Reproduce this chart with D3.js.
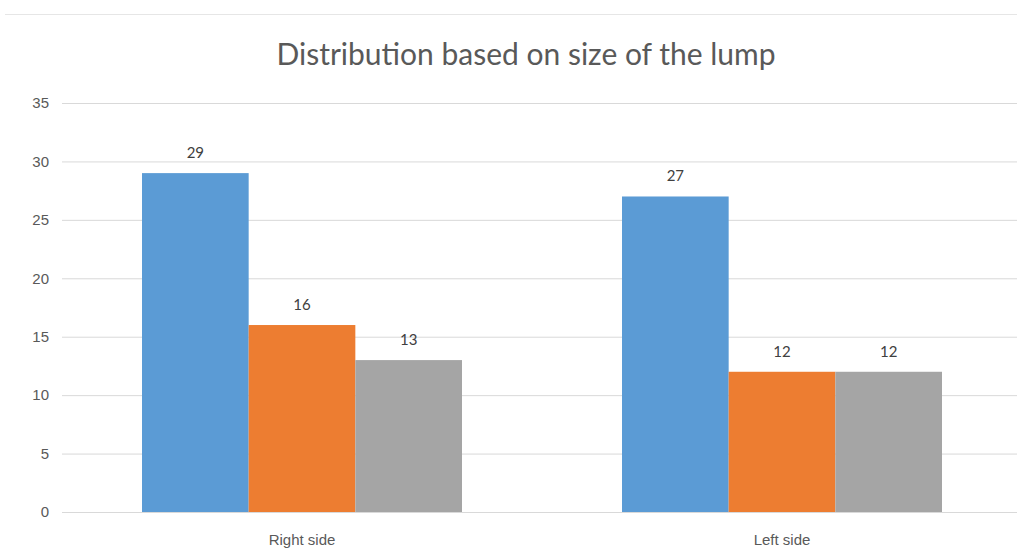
<!DOCTYPE html>
<html>
<head>
<meta charset="utf-8">
<script src="https://cdn.jsdelivr.net/npm/d3@7"></script>
<style>
  body { margin: 0; background: #fff; }
  svg { display: block; font-family: Lato, "Open Sans", sans-serif; }
</style>
</head>
<body>
<div class="chart"></div>
<script>
// data
const categories = ["Right side", "Left side"];
const seriesNames = ["Series1", "Series2", "Series3"];
const series1 = [29, 27];
const series2 = [16, 12];
const series3 = [13, 12];
const yTicks = [0, 5, 10, 15, 20, 25, 30, 35];

const colors = ["#5B9BD5", "#ED7D31", "#A5A5A5"];

// size
const svg_w = 1017;
const svg_h = 549;
const plotLeft = 62;
const plotRight = 1022;
const plotTop = 103;
const plotBottom = 512;

const table = categories.map((c, i) => ({
  cat: c,
  values: [series1[i], series2[i], series3[i]]
}));

const svg = d3.select(".chart")
  .append("svg")
  .attr("width", svg_w)
  .attr("height", svg_h);

// chart border line at top
svg.append("line")
  .attr("x1", 5).attr("x2", svg_w)
  .attr("y1", 14.5).attr("y2", 14.5)
  .attr("stroke", "#e6e6e6")
  .attr("stroke-width", 1);

// scales
const xScale = d3.scaleBand()
  .domain(categories)
  .range([plotLeft, plotRight]);

const xInner = d3.scaleBand()
  .domain(seriesNames)
  .range([0, xScale.bandwidth()])
  .paddingOuter(0.75);

const yScale = d3.scaleLinear()
  .domain([0, 35])
  .range([plotBottom, plotTop]);

// gridlines + y labels
const yAxis = d3.axisLeft(yScale)
  .tickValues(yTicks)
  .tickSize(-(plotRight - plotLeft))
  .tickPadding(13);

const gy = svg.append("g")
  .attr("transform", "translate(" + plotLeft + ",0)")
  .call(yAxis);
gy.select(".domain").remove();
gy.selectAll(".tick line")
  .attr("stroke", "#d9d9d9")
  .attr("stroke-width", 1);
gy.selectAll(".tick text")
  .attr("fill", "#595959")
  .attr("font-size", "15px");

// bars
const groups = svg.selectAll("g.grp")
  .data(table)
  .enter()
  .append("g")
  .attr("class", "grp")
  .attr("transform", d => "translate(" + xScale(d.cat) + ",0)");

groups.selectAll("rect")
  .data(d => d.values.map((v, i) => ({ name: seriesNames[i], v: v, i: i })))
  .enter()
  .append("rect")
  .attr("x", d => xInner(d.name))
  .attr("y", d => yScale(d.v))
  .attr("width", xInner.bandwidth())
  .attr("height", d => yScale(0) - yScale(d.v))
  .attr("fill", d => colors[d.i]);

// data labels
groups.selectAll("text.lbl")
  .data(d => d.values.map((v, i) => ({ name: seriesNames[i], v: v, i: i })))
  .enter()
  .append("text")
  .attr("class", "lbl")
  .attr("x", d => xInner(d.name) + xInner.bandwidth() / 2)
  .attr("y", d => yScale(d.v) - 15)
  .attr("text-anchor", "middle")
  .attr("fill", "#404040")
  .attr("font-size", "15px")
  .text(d => d.v);

// x axis labels
const xAxis = d3.axisBottom(xScale).tickSize(0).tickPadding(22);
const gx = svg.append("g")
  .attr("transform", "translate(0," + plotBottom + ")")
  .call(xAxis);
gx.select(".domain").remove();
gx.selectAll(".tick text")
  .attr("fill", "#595959")
  .attr("font-size", "15px");

// title
svg.append("text")
  .attr("x", 526)
  .attr("y", 65)
  .attr("text-anchor", "middle")
  .attr("fill", "#595959")
  .attr("font-size", "30px")
  .text("Distribution based on size of the lump");
</script>
</body>
</html>
